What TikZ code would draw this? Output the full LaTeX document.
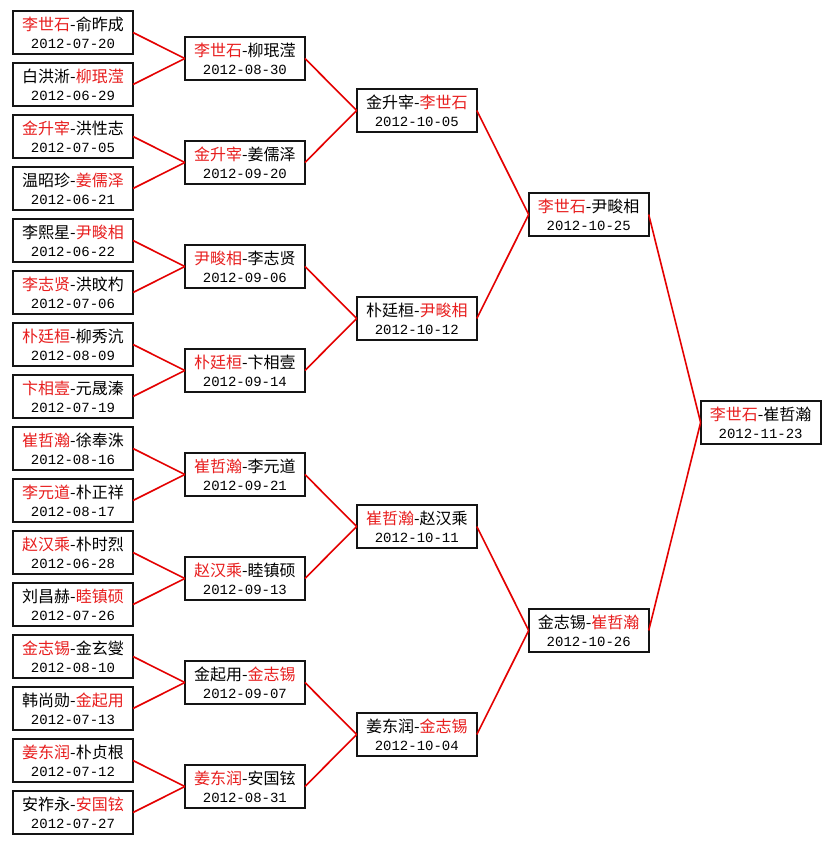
\documentclass[tikz,border=0pt]{standalone}
\usepackage{fontspec}
\setmainfont{Noto Sans CJK SC}
\newfontfamily\datefont{Liberation Mono}
\usetikzlibrary{positioning,calc}
\usepackage{xcolor}
\definecolor{wincol}{RGB}{232,30,30}
\definecolor{linkcol}{RGB}{228,0,0}
\definecolor{boxcol}{RGB}{20,20,20}
\newcommand{\winner}[1]{\textcolor{wincol}{#1}}
\newcommand{\matchday}[1]{{\datefont\fontsize{14pt}{18pt}\selectfont #1}}

\begin{document}
\begin{tikzpicture}[
    x=1pt, y=-1pt,
    match/.style={draw=boxcol, line width=2pt, fill=white, minimum width=120pt, minimum height=43pt,
                  inner sep=0pt, outer sep=0pt, align=center, font=\fontsize{16pt}{18pt}\selectfont},
    link/.style={line width=1.6pt, color=linkcol},
]
\useasboundingbox[fill=white] (0,0) rectangle (832,845);

% ============ ROUND 1 ============
\node[match] (m1) at (73,32.5) {\winner{李世石}-俞昨成\\\matchday{2012-07-20}};
\node[match, below=9pt of m1] (m2) {白洪淅-\winner{柳珉滢}\\\matchday{2012-06-29}};
\node[match, below=9pt of m2] (m3) {\winner{金升宰}-洪性志\\\matchday{2012-07-05}};
\node[match, below=9pt of m3] (m4) {温昭珍-\winner{姜儒泽}\\\matchday{2012-06-21}};
\node[match, below=9pt of m4] (m5) {李熙星-\winner{尹畯相}\\\matchday{2012-06-22}};
\node[match, below=9pt of m5] (m6) {\winner{李志贤}-洪旼杓\\\matchday{2012-07-06}};
\node[match, below=9pt of m6] (m7) {\winner{朴廷桓}-柳秀沆\\\matchday{2012-08-09}};
\node[match, below=9pt of m7] (m8) {\winner{卞相壹}-元晟溱\\\matchday{2012-07-19}};
\node[match, below=9pt of m8] (m9) {\winner{崔哲瀚}-徐奉洙\\\matchday{2012-08-16}};
\node[match, below=9pt of m9] (m10) {\winner{李元道}-朴正祥\\\matchday{2012-08-17}};
\node[match, below=9pt of m10] (m11) {\winner{赵汉乘}-朴时烈\\\matchday{2012-06-28}};
\node[match, below=9pt of m11] (m12) {刘昌赫-\winner{睦镇硕}\\\matchday{2012-07-26}};
\node[match, below=9pt of m12] (m13) {\winner{金志锡}-金玄燮\\\matchday{2012-08-10}};
\node[match, below=9pt of m13] (m14) {韩尚勋-\winner{金起用}\\\matchday{2012-07-13}};
\node[match, below=9pt of m14] (m15) {\winner{姜东润}-朴贞根\\\matchday{2012-07-12}};
\node[match, below=9pt of m15] (m16) {安祚永-\winner{安国铉}\\\matchday{2012-07-27}};

% ============ ROUND 2 ============
\node[match] (q1) at ($(m1)!0.5!(m2) + (171.9,0)$) {\winner{李世石}-柳珉滢\\\matchday{2012-08-30}};
\node[match] (q2) at ($(m3)!0.5!(m4) + (171.9,0)$) {\winner{金升宰}-姜儒泽\\\matchday{2012-09-20}};
\node[match] (q3) at ($(m5)!0.5!(m6) + (171.9,0)$) {\winner{尹畯相}-李志贤\\\matchday{2012-09-06}};
\node[match] (q4) at ($(m7)!0.5!(m8) + (171.9,0)$) {\winner{朴廷桓}-卞相壹\\\matchday{2012-09-14}};
\node[match] (q5) at ($(m9)!0.5!(m10) + (171.9,0)$) {\winner{崔哲瀚}-李元道\\\matchday{2012-09-21}};
\node[match] (q6) at ($(m11)!0.5!(m12) + (171.9,0)$) {\winner{赵汉乘}-睦镇硕\\\matchday{2012-09-13}};
\node[match] (q7) at ($(m13)!0.5!(m14) + (171.9,0)$) {金起用-\winner{金志锡}\\\matchday{2012-09-07}};
\node[match] (q8) at ($(m15)!0.5!(m16) + (171.9,0)$) {\winner{姜东润}-安国铉\\\matchday{2012-08-31}};

% ============ ROUND 3 ============
\node[match] (s1) at ($(q1)!0.5!(q2) + (171.9,0)$) {金升宰-\winner{李世石}\\\matchday{2012-10-05}};
\node[match] (s2) at ($(q3)!0.5!(q4) + (171.9,0)$) {朴廷桓-\winner{尹畯相}\\\matchday{2012-10-12}};
\node[match] (s3) at ($(q5)!0.5!(q6) + (171.9,0)$) {\winner{崔哲瀚}-赵汉乘\\\matchday{2012-10-11}};
\node[match] (s4) at ($(q7)!0.5!(q8) + (171.9,0)$) {姜东润-\winner{金志锡}\\\matchday{2012-10-04}};

% ============ ROUND 4 ============
\node[match] (f1) at ($(s1)!0.5!(s2) + (171.9,0)$) {\winner{李世石}-尹畯相\\\matchday{2012-10-25}};
\node[match] (f2) at ($(s3)!0.5!(s4) + (171.9,0)$) {金志锡-\winner{崔哲瀚}\\\matchday{2012-10-26}};

% ============ FINAL ============
\node[match] (champ) at ($(f1)!0.5!(f2) + (171.9,0)$) {\winner{李世石}-崔哲瀚\\\matchday{2012-11-23}};

% ============ LINKS ============
\foreach \a/\b in {m1/q1, m2/q1, m3/q2, m4/q2, m5/q3, m6/q3, m7/q4, m8/q4,
                   m9/q5, m10/q5, m11/q6, m12/q6, m13/q7, m14/q7, m15/q8, m16/q8,
                   q1/s1, q2/s1, q3/s2, q4/s2, q5/s3, q6/s3, q7/s4, q8/s4,
                   s1/f1, s2/f1, s3/f2, s4/f2, f1/champ, f2/champ}
  \draw[link] (\a.east) -- (\b.west);

\end{tikzpicture}
\end{document}
